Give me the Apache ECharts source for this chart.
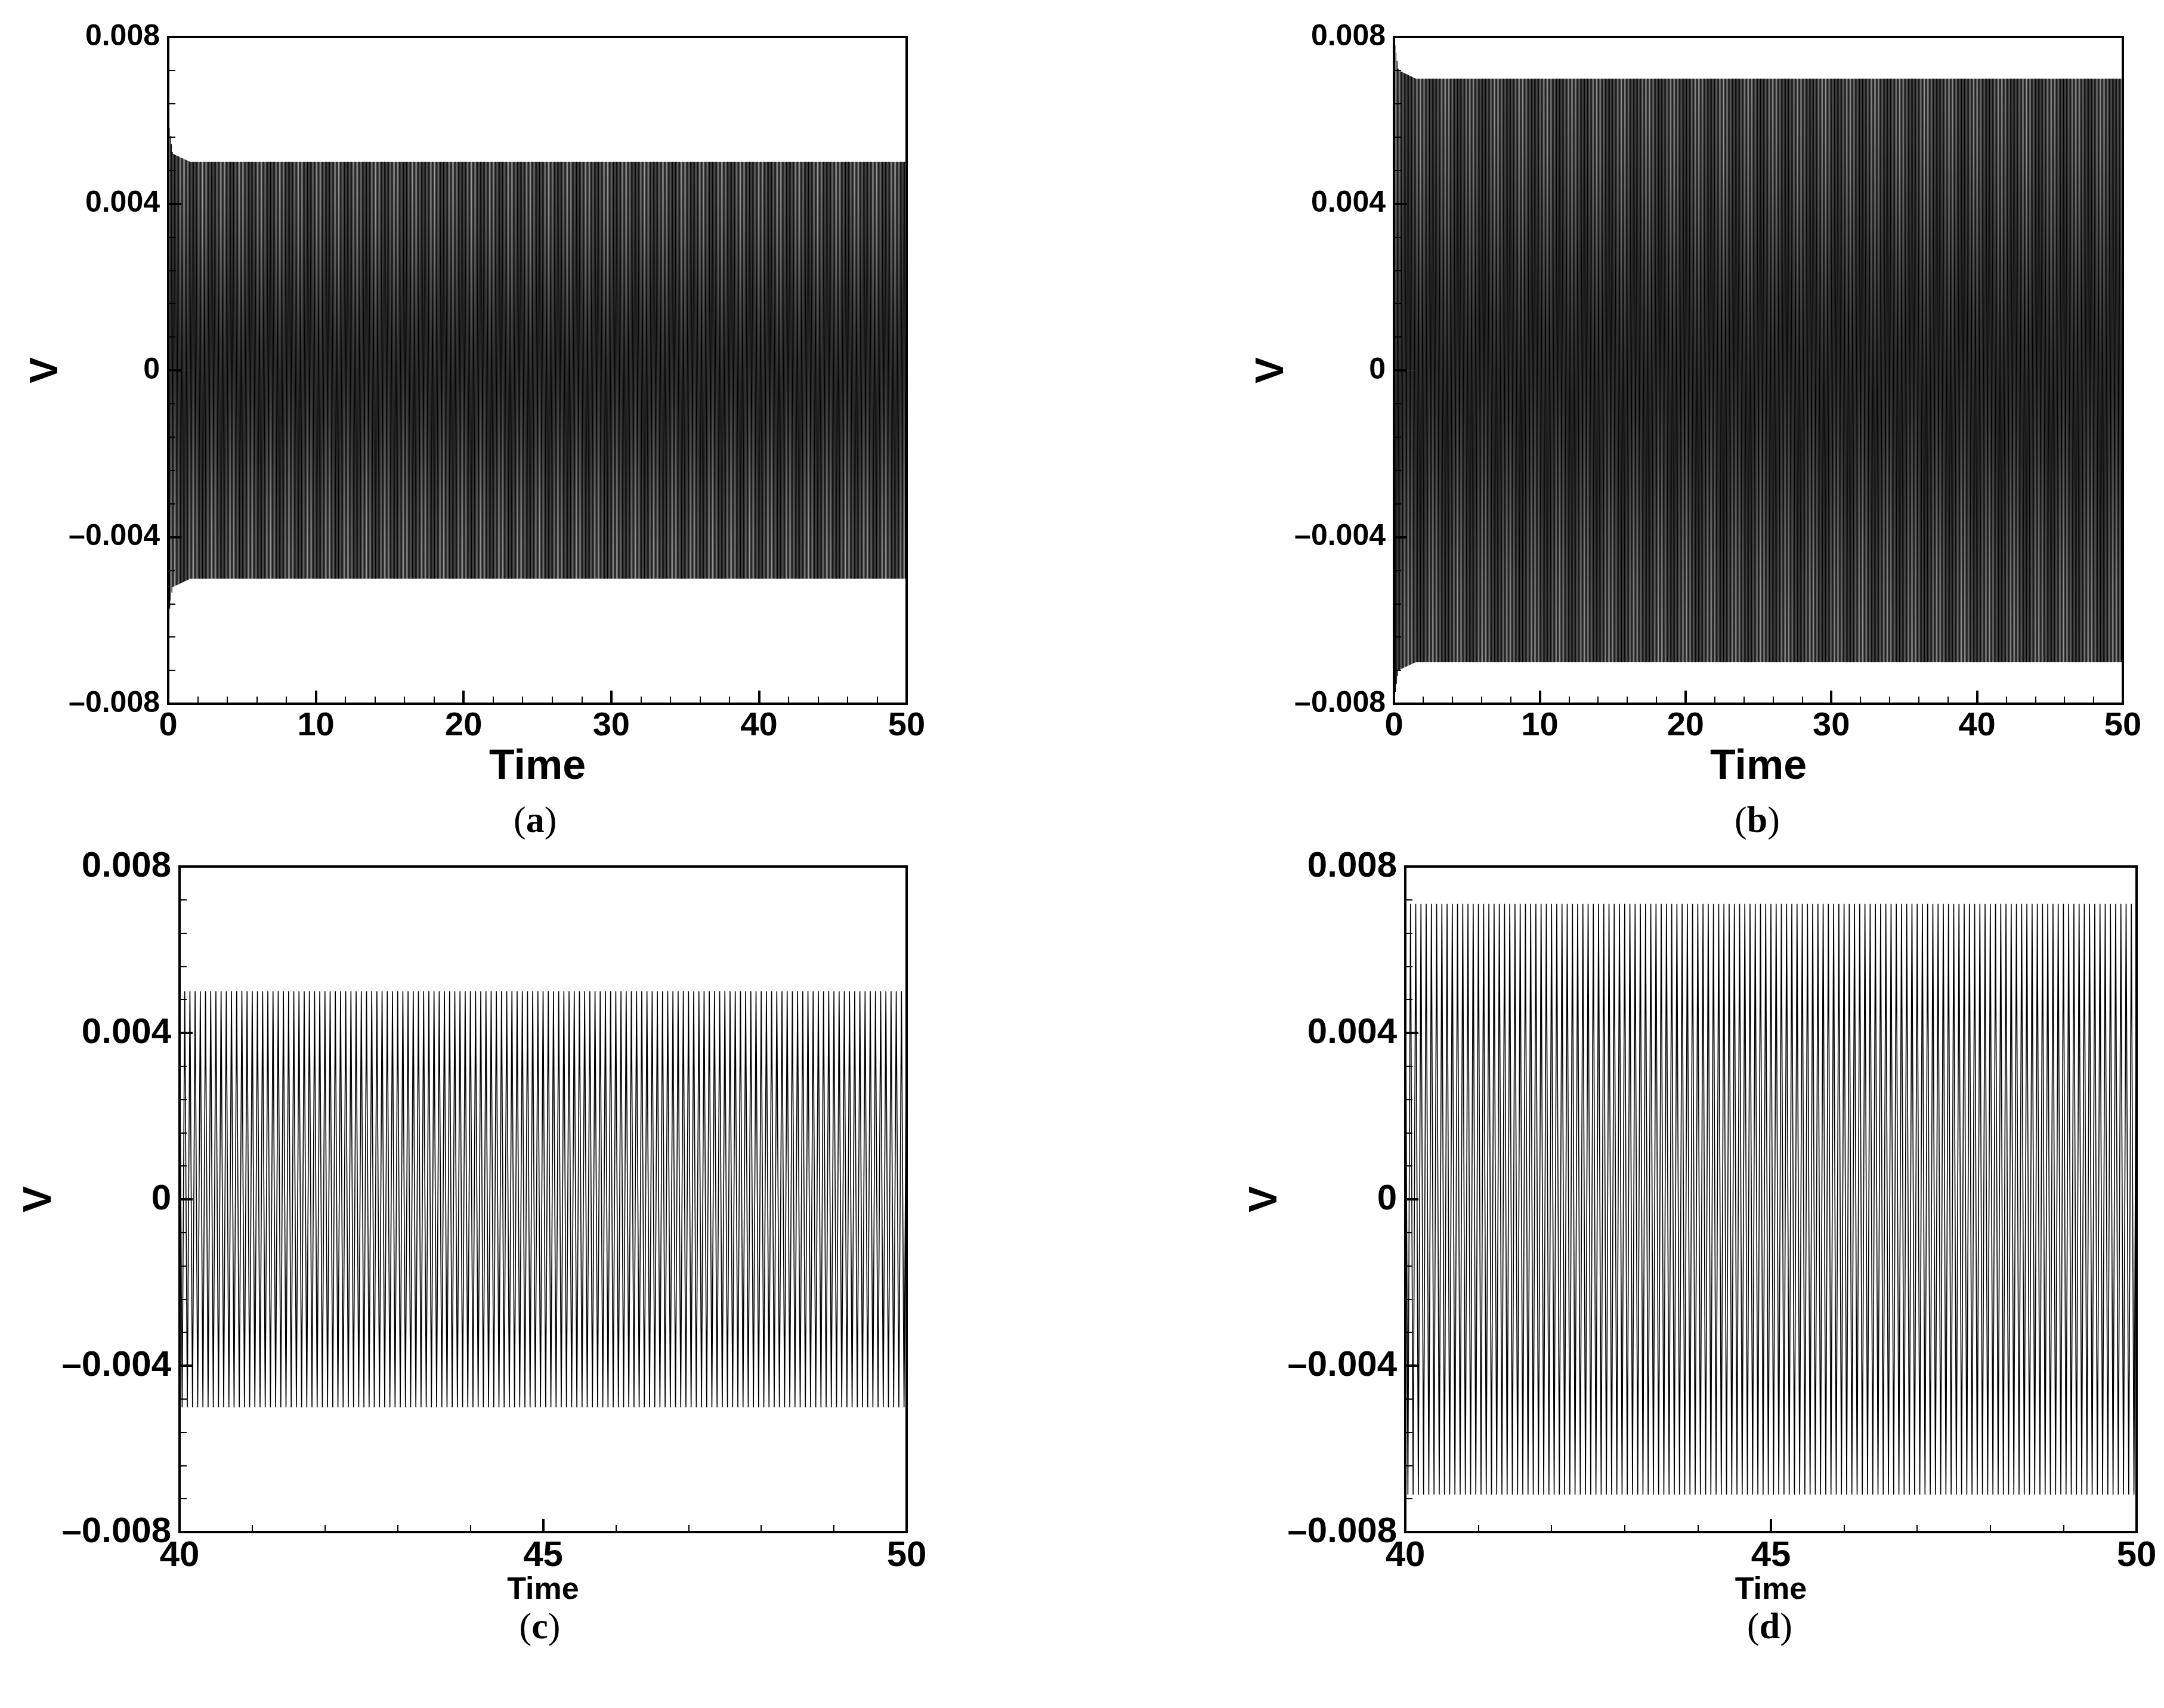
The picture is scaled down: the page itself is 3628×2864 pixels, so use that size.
<!DOCTYPE html>
<html>
<head>
<meta charset="utf-8">
<script src="https://cdn.jsdelivr.net/npm/echarts@6/dist/echarts.min.js"></script>
<style>html,body{margin:0;background:#fff}#main{width:3628px;height:2864px}</style>
</head>
<body>
<div id="main"></div>
<script>
// tick labels
var yTicks = [-0.008, -0.004, 0, 0.004, 0.008];
var captions = ['a', 'b', 'c', 'd'];
// oscillation: ~14 cycles per time unit
var cyclesPerUnit = 14;
// amplitude envelopes [time, amplitude]
var envA = [[0, 0.0060], [0.3, 0.0052], [1.5, 0.0050], [50, 0.0050]];
var envB = [[0, 0.0080], [0.3, 0.0072], [1.5, 0.0070], [50, 0.0070]];
var envC = [[40, 0.0050], [50, 0.0050]];
var envD = [[40, 0.0071], [50, 0.0071]];
// time ranges of each panel
var rangeA = [0, 50], rangeB = [0, 50], rangeC = [40, 50], rangeD = [40, 50];

function amp(env, t) {
    for (var i = 1; i < env.length; i++) {
        if (t <= env[i][0]) {
            var a = env[i - 1], b = env[i];
            return a[1] + (b[1] - a[1]) * (t - a[0]) / (b[0] - a[0]);
        }
    }
    return env[env.length - 1][1];
}
// crest / trough sequence at every half cycle
function build(env, range) {
    var out = [];
    var n = Math.round((range[1] - range[0]) * cyclesPerUnit * 2);
    for (var k = 0; k <= n; k++) {
        var t = range[0] + k / (cyclesPerUnit * 2);
        out.push([t, (k % 2 ? -1 : 1) * amp(env, t)]);
    }
    return out;
}

var grids = [
    { left: 282, top: 62, width: 1238, height: 1118 },
    { left: 2337, top: 62, width: 1222, height: 1118 },
    { left: 301, top: 1453, width: 1219, height: 1116 },
    { left: 2356, top: 1453, width: 1226, height: 1116 }
];
var ranges = [rangeA, rangeB, rangeC, rangeD];
var envs = [envA, envB, envC, envD];
var xInt = [10, 10, 5, 5];
var font = 'Liberation Sans, Arial, sans-serif';

function fmtY(v) {
    if (Math.abs(v) < 1e-9) return '0';
    return (v < 0 ? '\u2013' : '') + Math.abs(v).toFixed(3);
}

var option = {
    backgroundColor: '#fff',
    animation: false,
    grid: grids.map(function (g) {
        return Object.assign({ show: true, borderColor: '#000', borderWidth: 4, backgroundColor: 'transparent' }, g);
    }),
    xAxis: grids.map(function (g, i) {
        return {
            type: 'value', gridIndex: i, min: ranges[i][0], max: ranges[i][1], interval: xInt[i],
            name: 'Time', nameLocation: 'middle', nameGap: 72,
            nameTextStyle: { fontFamily: font, fontWeight: 'bold', fontSize: i < 2 ? 70 : 52, color: '#000' },
            axisLine: { onZero: false, lineStyle: { color: '#000', width: 4 } },
            axisTick: { inside: true, length: 22, lineStyle: { color: '#000', width: 4 } },
            minorTick: { show: true, splitNumber: 5, length: 12, lineStyle: { color: '#000', width: 2 } },
            axisLabel: { fontFamily: font, fontWeight: 'bold', fontSize: i < 2 ? 56 : 60, color: '#000', margin: 10 },
            splitLine: { show: false }
        };
    }),
    yAxis: grids.map(function (g, i) {
        return {
            type: 'value', gridIndex: i, min: -0.008, max: 0.008, interval: 0.004,
            name: 'V', nameLocation: 'middle', nameGap: i < 2 ? 150 : 78, nameRotate: 90,
            nameTextStyle: { fontFamily: font, fontWeight: 'bold', fontSize: 66, color: '#000' },
            axisLine: { onZero: false, lineStyle: { color: '#000', width: 4 } },
            axisTick: { inside: true, length: 22, lineStyle: { color: '#000', width: 4 } },
            minorTick: { show: true, splitNumber: 5, length: 12, lineStyle: { color: '#000', width: 2 } },
            axisLabel: {
                fontFamily: font, fontWeight: 'bold', fontSize: i < 2 ? 50 : 60, color: '#000', margin: 14,
                formatter: fmtY
            },
            splitLine: { show: false }
        };
    }),
    series: envs.map(function (env, i) {
        return {
            type: 'line', xAxisIndex: i, yAxisIndex: i, data: build(env, ranges[i]),
            showSymbol: false, sampling: false, silent: true,
            lineStyle: { color: '#000', width: i < 2 ? 1 : 1.6 }
        };
    }),
    graphic: captions.map(function (c, i) {
        var g = grids[i];
        return {
            type: 'text', left: g.left + g.width / 2 - 40, top: i < 2 ? 1348 : 2700,
            style: {
                text: '(' + '{b|' + c + '})',
                font: '62px "Liberation Serif", serif', fill: '#000',
                rich: { b: { fontFamily: 'Liberation Serif', fontWeight: 'bold', fontSize: 62 } }
            }
        };
    })
};
echarts.init(document.getElementById('main')).setOption(option);
</script>
</body>
</html>
